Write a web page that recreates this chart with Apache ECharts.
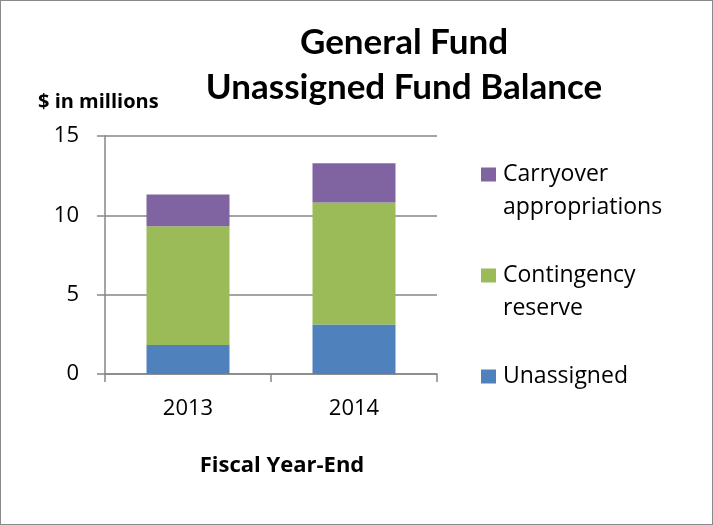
<!DOCTYPE html>
<html>
<head>
<meta charset="utf-8">
<script src="https://cdn.jsdelivr.net/npm/echarts@6/dist/echarts.min.js"></script>
<style>
  html, body { margin: 0; padding: 0; background: #fff; }
  #chart { width: 713px; height: 525px; box-sizing: border-box; border: 1px solid #8a8a8a; }
</style>
</head>
<body>
<div id="chart"></div>
<script>
const categories = ['2013', '2014'];
const unassigned = [1.83, 3.12];
const contingency = [7.48, 7.69];
const carryover = [2.0, 2.48];
const yTicks = [0, 5, 10, 15];

const FONT = 'Open Sans';
const TFONT = 'Lato';
const chart = echarts.init(document.getElementById('chart'), null, { renderer: 'canvas' });

const legendLabels = {
  'Carryover appropriations': '\nCarryover\nappropriations',
  'Contingency reserve': '\nContingency\nreserve',
  'Unassigned': '\nUnassigned\n'
};

chart.setOption({
  animation: false,
  textStyle: { fontFamily: FONT },
  title: [
    {
      text: 'General Fund\nUnassigned Fund Balance',
      left: 398, top: 14, textAlign: 'center',
      textStyle: { fontFamily: TFONT, fontWeight: 'bold', fontSize: 35, lineHeight: 45, color: '#000' }
    },
    {
      text: '$ in millions',
      left: 32, top: 86,
      textStyle: { fontFamily: FONT, fontWeight: 'bold', fontSize: 20, color: '#000' }
    }
  ],
  grid: { left: 104, right: 275, top: 135, bottom: 150, containLabel: false },
  legend: {
    orient: 'vertical',
    left: 480, top: 124,
    padding: 0,
    itemGap: 2,
    itemWidth: 15, itemHeight: 14,
    icon: 'rect',
    data: ['Carryover appropriations', 'Contingency reserve', 'Unassigned'],
    formatter: function (name) { return legendLabels[name]; },
    textStyle: { fontFamily: FONT, fontSize: 23, lineHeight: 33, color: '#000', padding: [0, 0, 0, 2] }
  },
  xAxis: {
    type: 'category',
    data: categories,
    name: 'Fiscal Year-End',
    nameLocation: 'middle',
    nameGap: 81,
    nameTextStyle: { fontFamily: FONT, fontWeight: 'bold', fontSize: 22, color: '#000', padding: [0, 0, 0, 22] },
    axisLine: { lineStyle: { color: '#868686', width: 1.5 } },
    axisTick: { show: true, length: 8, lineStyle: { color: '#868686', width: 1.5 } },
    axisLabel: { fontFamily: FONT, fontSize: 22, color: '#000', margin: 24 }
  },
  yAxis: {
    type: 'value',
    min: 0, max: 15, interval: 5,
    axisLine: { show: true, lineStyle: { color: '#868686', width: 1.5 } },
    axisTick: { show: true, length: 8, lineStyle: { color: '#868686', width: 1.5 } },
    splitLine: { show: true, lineStyle: { color: '#868686', width: 1.5 } },
    axisLabel: {
      fontFamily: FONT, fontSize: 22, color: '#000', margin: 26,
      formatter: function (v) { return yTicks.indexOf(v) >= 0 ? String(v) : ''; }
    }
  },
  series: [
    { name: 'Unassigned', type: 'bar', stack: 'total', data: unassigned, barWidth: '50%', itemStyle: { color: '#4F81BD' } },
    { name: 'Contingency reserve', type: 'bar', stack: 'total', data: contingency, itemStyle: { color: '#9BBB59' } },
    { name: 'Carryover appropriations', type: 'bar', stack: 'total', data: carryover, itemStyle: { color: '#8064A2' } }
  ]
});
</script>
</body>
</html>
